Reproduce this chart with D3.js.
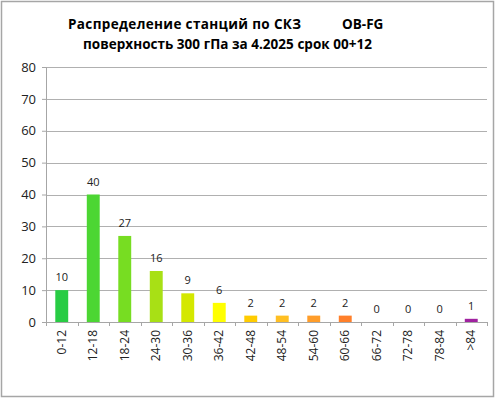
<!DOCTYPE html>
<html>
<head>
<meta charset="utf-8">
<script src="https://cdn.jsdelivr.net/npm/d3@7"></script>
<style>
body { margin: 0; background: #fff; }
svg text { font-family: "Open Sans", "Liberation Sans", sans-serif; }
</style>
</head>
<body>
<svg id="chart" width="496" height="399"></svg>
<script>
var categories = ["0-12","12-18","18-24","24-30","30-36","36-42","42-48","48-54","54-60","60-66","66-72","72-78","78-84",">84"];
var counts = [10, 40, 27, 16, 9, 6, 2, 2, 2, 2, 0, 0, 0, 1];
var barColors = ["#28cc44","#4cd633","#77dd22","#a8e015","#d4e800","#ffff00","#ffcc00","#ffbf22","#ff9d2a","#ff7f2a","#cccccc","#cccccc","#cccccc","#a022a0"];
var yTicks = [0, 10, 20, 30, 40, 50, 60, 70, 80];
var titleLine1 = "Распределение станций по СКЗ";
var titleTag = "OB-FG";
var titleLine2 = "поверхность  300 гПа за 4.2025 срок 00+12";

var svg = d3.select("#chart");
var margin = {left: 46, right: 9, top: 67, bottom: 77};
var width = 496 - margin.left - margin.right,
    height = 399 - margin.top - margin.bottom;

// outer frame
svg.append("rect")
    .attr("x", 1.5).attr("y", 1.5)
    .attr("width", 492).attr("height", 395)
    .attr("fill", "#fff")
    .attr("stroke", "#a6a6a6")
    .attr("stroke-width", 1.5);

// title
svg.append("text")
    .attr("x", 68).attr("y", 29)
    .attr("font-size", "13.5px").attr("font-weight", "bold")
    .attr("textLength", 233)
    .text(titleLine1);
svg.append("text")
    .attr("x", 342).attr("y", 29)
    .attr("font-size", "13.5px").attr("font-weight", "bold")
    .text(titleTag);
svg.append("text")
    .attr("x", 83).attr("y", 49)
    .attr("font-size", "13.5px").attr("font-weight", "bold")
    .attr("textLength", 289)
    .text(titleLine2);

var x = d3.scaleBand().domain(categories).range([0, width]).paddingInner(0.59).paddingOuter(0.295);
var xTickScale = d3.scaleBand().domain(categories).range([0, width]);
var y = d3.scaleLinear().domain([0, 80]).range([height, 0]);

var g = svg.append("g")
    .attr("transform", "translate(" + margin.left + "," + margin.top + ")");

// gridlines
g.selectAll(".grid")
    .data(yTicks.filter(function(d){ return d > 0; }))
    .enter().append("line")
        .attr("x1", 0).attr("x2", width)
        .attr("y1", function(d){ return Math.round(y(d)) + 0.5; })
        .attr("y2", function(d){ return Math.round(y(d)) + 0.5; })
        .attr("stroke", "#b0b0b0")
        .attr("stroke-width", 1);

// y axis
var yAxis = g.append("g")
    .call(d3.axisLeft(y).tickValues(yTicks).tickSize(4).tickPadding(6));
yAxis.select(".domain").attr("stroke", "#a6a6a6");
yAxis.selectAll(".tick line").attr("stroke", "#a6a6a6");
yAxis.selectAll("text").attr("font-size", "13px").attr("fill", "#222");

// bars
g.selectAll(".bar")
    .data(counts)
    .enter().append("rect")
        .attr("x", function(d, i){ return x(categories[i]); })
        .attr("y", function(d){ return y(d); })
        .attr("width", x.bandwidth())
        .attr("height", function(d){ return height - y(d); })
        .attr("fill", function(d, i){ return barColors[i]; });

// value labels
g.selectAll(".val")
    .data(counts)
    .enter().append("text")
        .attr("x", function(d, i){ return x(categories[i]) + x.bandwidth() / 2; })
        .attr("y", function(d){ return y(d) - 9; })
        .attr("text-anchor", "middle")
        .attr("font-size", "11px")
        .attr("fill", "#222")
        .text(function(d){ return d; });

// x axis
var xAxis = g.append("g")
    .attr("transform", "translate(0," + height + ")")
    .call(d3.axisBottom(xTickScale).tickSize(0).tickFormat(""));
xAxis.select(".domain").attr("stroke", "#a6a6a6");

// category ticks on band edges
g.selectAll(".xtick")
    .data(d3.range(categories.length + 1))
    .enter().append("line")
        .attr("x1", function(i){ return Math.round(i * xTickScale.step()) + 0.5; })
        .attr("x2", function(i){ return Math.round(i * xTickScale.step()) + 0.5; })
        .attr("y1", height).attr("y2", height + 4)
        .attr("stroke", "#a6a6a6");

// rotated category labels
g.selectAll(".cat")
    .data(categories)
    .enter().append("text")
        .attr("transform", function(d){
            var cx = xTickScale(d) + xTickScale.bandwidth() / 2;
            return "translate(" + (cx + 4) + "," + (height + 8) + ") rotate(-90)";
        })
        .attr("text-anchor", "end")
        .attr("font-size", "12px")
        .attr("fill", "#222")
        .text(function(d){ return d; });
</script>
</body>
</html>
